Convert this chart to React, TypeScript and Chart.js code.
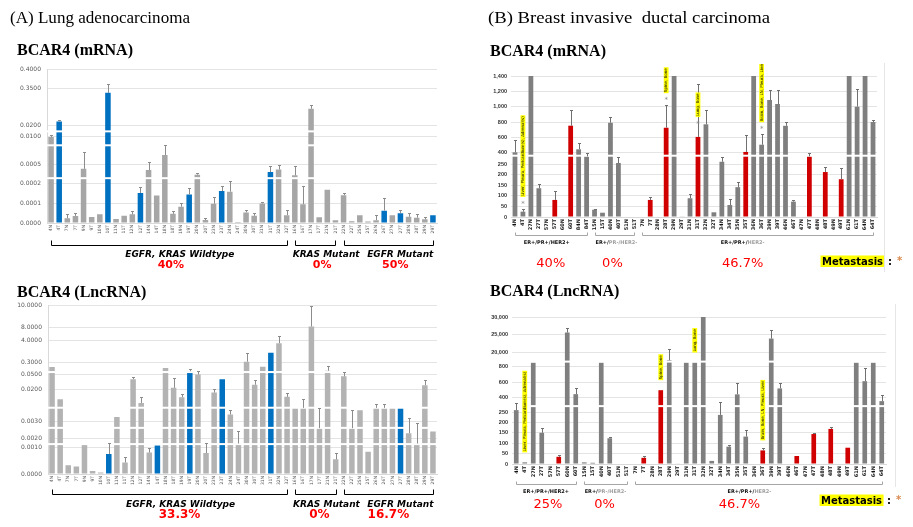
import React, { useEffect, useRef } from "react";
import { Chart, registerables } from "chart.js";

Chart.register(...registerables);

// ---------------- DATA ----------------
// (A) Lung adenocarcinoma – sample ids (each id gives N and T)
const A_WILD_IDS = [4, 7, 9, 10, 11, 12, 14, 18, 19, 20, 23, 24, 30, 31, 32];
const A_KRAS_IDS = [16, 17, 21];
const A_EGFR_IDS = [22, 25, 26, 27, 28, 29];

// (B) Breast invasive ductal carcinoma – sample ids
const B_HER2P_IDS_MRNA = [4, 27, 57, 60, 84];
const B_HER2P_IDS_LNC = [4, 27, 57, 60];
const B_TN_IDS = [15, 40, 51];
const B_LUM_IDS = [7, 28, 29, 31, 32, 34, 35, 36, 39, 46, 47, 48, 49, 61, 64];

const A_MRNA_VALUES = [
  0.0097, 0.055, 0.000024, 0.000036, 0.00043, 0.00003, 0.000044, 0.309, 0.00002, 0.000037,
  0.000044, 0.000153, 0.00041, 0.00014, 0.0036, 0.000047, 0.000083, 0.000146, 0.00034, 0.000015,
  0.000098, 0.000163, 0.00016, 0.000005, 0.000054, 0.000037, 0.0001, 0.00038, 0.00042, 0.00004,
  0.00033, 0.000096, 0.168, 0.000029, 0.00017, 0.000014,
  0.000142, 0.000009, 0.00004, 0.000008, 0.000014, 0.000063, 0.00004, 0.00005, 0.000032, 0.000027, 0.000019, 0.00004,
];
const A_MRNA_ERRORS = [
  0.001, 0.015, 0.00002, 0.000016, 0.0042, 0, 0, 0.053, 0, 0,
  0.000018, 0.00003, 0.0009, 0, 0.0033, 0.000015, 0.000017, 0.000034, 0.00003, 0.000009,
  0.000036, 0.000027, 0.00009, 0, 0.000012, 0.000015, 0.000008, 0.0001, 0.000075, 0.000026,
  0.00015, 0.000094, 0.029, 0, 0, 0,
  0.000012, 0, 0, 0, 0.000025, 0.000067, 0, 0.000018, 0.000017, 0.000019, 0.00001, 0,
];
const A_MRNA_HIGH = ["4T", "10T", "12T", "19T", "23T", "31T", "26T", "27T", "29T"];

const A_LNC_VALUES = [
  0.196, 0.0147, 0.00033, 0.00029, 0.0013, 0.00011, 0.00006, 0.00076, 0.0054, 0.00044,
  0.04, 0.0128, 0.00082, 0.00125, 0.175, 0.023, 0.0158, 0.11, 0.049, 0.0008,
  0.0183, 0.0396, 0.0067, 0.00145, 0.37, 0.029, 0.204, 1.9, 3.54, 0.016,
  0.0102, 0.0102, 8.12, 0.0026, 0.121, 0.00056,
  0.0455, 0.0026, 0.009, 0.00085, 0.0102, 0.0102, 0.0102, 0.0102, 0.0023, 0.00145, 0.028, 0.0024,
];
const A_LNC_ERRORS = [
  0, 0, 0, 0, 0, 0, 0, 0.0007, 0, 0.00022,
  0.004, 0.0032, 0.00016, 0, 0, 0.02, 0.0019, 0.05, 0.06, 0.00065,
  0.003, 0, 0.0022, 0.001, 1.5, 0.0085, 0, 0, 1.76, 0.0021,
  0, 0.0047, 2, 0.0073, 0.09, 0.00023,
  0.046, 0.0067, 0, 0, 0.0018, 0.0018, 0, 0, 0.0028, 0.00145, 0.0095, 0,
];
const A_LNC_HIGH = ["10T", "14T", "19T", "23T", "31T", "27T"];

const B_MRNA_VALUES = [
  405, 25, 1500, 135, 0, 80, 0, 752, 444, 350,
  34, 20, 790, 263, 0, 0,
  0, 80, 0, 725, 1500, 3, 88, 605, 770, 22, 280, 56, 140, 410, 1500, 504, 1087, 1035, 750, 72,
  0, 352, 0, 211, 0, 177, 1500, 1000, 1500, 800,
];
const B_MRNA_ERRORS = [
  155, 13, 0, 20, 0, 42, 0, 205, 78, 50,
  5, 0, 70, 84, 0, 0,
  0, 15, 0, 295, 0, 0, 20, 690, 187, 0, 59, 27, 25, 220, 0, 136, 128, 180, 55, 8,
  0, 40, 0, 24, 0, 53, 0, 225, 0, 25,
];
const B_MRNA_HIGH = ["57T", "60T", "7T", "28T", "31T", "35T", "47T", "48T", "49T"];

const B_LNC_VALUES = [
  273, 8, 6500, 150, 0, 35, 25570, 443,
  8, 6, 6500, 124, 0, 0,
  0, 30, 0, 495, 9550, 2, 6500, 6500, 30000, 15, 237, 84, 440, 132, 0, 66, 23870, 518,
  0, 39, 0, 144, 0, 168, 0, 79, 6500, 613, 6500, 363,
];
const B_LNC_ERRORS = [
  67, 0, 0, 22, 0, 7, 1430, 82,
  0, 0, 0, 8, 0, 0,
  0, 9, 0, 0, 11500, 0, 0, 0, 0, 0, 118, 8, 150, 30, 0, 13, 2330, 72,
  0, 0, 0, 6, 0, 9, 0, 0, 0, 167, 0, 67,
];
const B_LNC_HIGH = ["57T", "7T", "28T", "36T", "46T", "47T", "48T", "49T"];

// broken-axis tick values and their labels
const A_MRNA_TICKS = [0, 0.0001, 0.0002, 0.0005, 0.01, 0.02, 0.35, 0.4];
const A_MRNA_TICK_LABELS = ["0.0000", "0.0001", "0.0002", "0.0005", "0.0100", "0.0200", "0.3500", "0.4000"];
const A_LNC_TICKS = [0, 0.001, 0.002, 0.003, 0.02, 0.05, 0.3, 4, 8, 10];
const A_LNC_TICK_LABELS = ["0.0000", "0.0010", "0.0020", "0.0030", "0.0200", "0.0500", "0.3000", "4.0000", "8.0000", "10.0000"];
const B_MRNA_TICKS = [0, 50, 100, 150, 200, 250, 400, 600, 800, 1000, 1200, 1400];
const B_MRNA_TICK_LABELS = ["0", "50", "100", "150", "200", "250", "400", "600", "800", "1,000", "1,200", "1,400"];
const B_LNC_TICKS = [0, 50, 100, 150, 200, 250, 400, 600, 800, 20000, 25000, 30000];
const B_LNC_TICK_LABELS = ["0", "50", "100", "150", "200", "250", "400", "600", "800", "20,000", "25,000", "30,000"];

const METASTASIS_NOTES = [
  { label: "4T", text: "Liver, Pleura, Pericardium(s), Adrenal(s)" },
  { label: "28T", text: "Spine, Bone" },
  { label: "31T", text: "Lung, Bone" },
  { label: "36T", text: "Brain, Bone, LN, Pleura, Liver" },
];

// ---------------- helpers ----------------
const pairs = (ids: number[]) => ids.flatMap((id) => [id + "N", id + "T"]);

function pieceMap(vals: number[], units: number[]) {
  return (v: number) => {
    if (v <= vals[0]) return units[0];
    for (let i = 0; i < vals.length - 1; i++) {
      if (v <= vals[i + 1]) return units[i] + ((v - vals[i]) / (vals[i + 1] - vals[i])) * (units[i + 1] - units[i]);
    }
    return units[units.length - 1];
  };
}

type Group = { from: number; to: number; parts: [string, string][]; pct: string; ldx: number; pdx: number };
type Spec = {
  key: string;
  left: number; top: number; width: number; height: number;
  yW: number; xH: number; padTop: number; padRight: number; padBottom: number;
  labels: string[]; values: number[]; errors: number[]; high: string[];
  base: string; hi: string; barPct: number;
  tickVals: number[]; tickUnits: number[]; tickLabels: string[]; breaks: number[];
  yFont: any; yColor: string; yPad: number; yBorder: boolean;
  xFont: any; xColor: string;
  errColor: string;
  groups: Group[];
  bracketY: number; bracketTick: number; bracketColor: string;
  labelY: number; labelFont: string; pctY: number; pctFont: string;
  meta?: { x: number; y: number };
  notes?: { label: string; text: string }[];
  asterisks?: boolean;
};

const A_MRNA_LABELS = [...pairs(A_WILD_IDS), ...pairs(A_KRAS_IDS), ...pairs(A_EGFR_IDS)];
const A_LNC_LABELS = A_MRNA_LABELS;
const B_MRNA_LABELS = [...pairs(B_HER2P_IDS_MRNA), ...pairs(B_TN_IDS), ...pairs(B_LUM_IDS)];
const B_LNC_LABELS = [...pairs(B_HER2P_IDS_LNC), ...pairs(B_TN_IDS), ...pairs(B_LUM_IDS)];

const A_GROUP_LABEL_FONT = "italic bold 9px 'DejaVu Sans'";

const SPECS: Spec[] = [
  {
    key: "a-mrna", left: 0, top: 60, width: 445, height: 215,
    yW: 47, xH: 20, padTop: 9, padRight: 8, padBottom: 32,
    labels: A_MRNA_LABELS, values: A_MRNA_VALUES, errors: A_MRNA_ERRORS, high: A_MRNA_HIGH,
    base: "#a6a6a6", hi: "#0070c0", barPct: 0.68,
    tickVals: A_MRNA_TICKS, tickUnits: [0, 19.7, 39.3, 59, 87.3, 98, 135.3, 154], tickLabels: A_MRNA_TICK_LABELS,
    breaks: [45, 78, 92],
    yFont: { family: "DejaVu Sans", size: 6 }, yColor: "#595959", yPad: 6, yBorder: true,
    xFont: { family: "DejaVu Sans", size: 4.5 }, xColor: "#595959",
    errColor: "#8c8c8c",
    groups: [
      { from: 0, to: 29, parts: [["EGFR, KRAS Wildtype", "#000"]], pct: "40%", ldx: 11, pdx: 2 },
      { from: 30, to: 35, parts: [["KRAS Mutant", "#000"]], pct: "0%", ldx: 11, pdx: 7 },
      { from: 36, to: 47, parts: [["EGFR Mutant", "#000"]], pct: "50%", ldx: 12, pdx: 7 },
    ],
    bracketY: 245, bracketTick: 5, bracketColor: "#000",
    labelY: 256.5, labelFont: A_GROUP_LABEL_FONT, pctY: 267.5, pctFont: "bold 11px 'DejaVu Sans'",
  },
  {
    key: "a-lnc", left: 0, top: 296, width: 445, height: 224,
    yW: 48, xH: 18, padTop: 9, padRight: 8, padBottom: 28,
    labels: A_LNC_LABELS, values: A_LNC_VALUES, errors: A_LNC_ERRORS, high: A_LNC_HIGH,
    base: "#b3b3b3", hi: "#0070c0", barPct: 0.68,
    tickVals: A_LNC_TICKS, tickUnits: [0, 26.3, 36, 52.7, 85, 100.3, 112.3, 134, 146.7, 169], tickLabels: A_LNC_TICK_LABELS,
    breaks: [30, 46.3, 66.5, 102.3],
    yFont: { family: "DejaVu Sans", size: 6 }, yColor: "#595959", yPad: 6, yBorder: true,
    xFont: { family: "DejaVu Sans", size: 4.5 }, xColor: "#595959",
    errColor: "#8c8c8c",
    groups: [
      { from: 0, to: 29, parts: [["EGFR, KRAS Wildtype", "#000"]], pct: "33.3%", ldx: 11, pdx: 10 },
      { from: 30, to: 35, parts: [["KRAS Mutant", "#000"]], pct: "0%", ldx: 11, pdx: 4 },
      { from: 36, to: 47, parts: [["EGFR Mutant", "#000"]], pct: "16.7%", ldx: 12, pdx: 0 },
    ],
    bracketY: 494.3, bracketTick: 5, bracketColor: "#000",
    labelY: 506.5, labelFont: A_GROUP_LABEL_FONT, pctY: 518.3, pctFont: "bold 12px 'DejaVu Sans'",
  },
  {
    key: "b-mrna", left: 470, top: 64, width: 443, height: 211,
    yW: 41, xH: 16, padTop: 12, padRight: 36, padBottom: 42,
    labels: B_MRNA_LABELS, values: B_MRNA_VALUES, errors: B_MRNA_ERRORS, high: B_MRNA_HIGH,
    base: "#7f7f7f", hi: "#d00000", barPct: 0.6,
    tickVals: B_MRNA_TICKS, tickUnits: [0, 10.7, 21.3, 32, 42.7, 53, 64.3, 79.7, 95, 110.3, 125.7, 141], tickLabels: B_MRNA_TICK_LABELS,
    breaks: [61.3],
    yFont: { family: "Liberation Sans", size: 5.5, weight: "bold" }, yColor: "#333", yPad: 4, yBorder: false,
    xFont: { family: "DejaVu Sans", size: 5, weight: "bold" }, xColor: "#111",
    errColor: "#707070",
    groups: [
      { from: 0, to: 9, parts: [["ER+/PR+/HER2+", "#111"]], pct: "40%", ldx: -4, pdx: 0 },
      { from: 10, to: 15, parts: [["ER+/", "#111"], ["PR-/HER2-", "#a0a0a0"]], pct: "0%", ldx: 2, pdx: -2 },
      { from: 16, to: 45, parts: [["ER+/PR+/", "#111"], ["HER2-", "#a0a0a0"]], pct: "46.7%", ldx: -15, pdx: -15 },
    ],
    bracketY: 235, bracketTick: 3, bracketColor: "#a6a6a6",
    labelY: 243.5, labelFont: "bold 5px 'DejaVu Sans'", pctY: 267.3, pctFont: "13px 'DejaVu Sans'",
    meta: { x: 822, y: 265 },
    notes: METASTASIS_NOTES, asterisks: true,
  },
  {
    key: "b-lnc", left: 470, top: 305, width: 443, height: 215,
    yW: 42, xH: 16, padTop: 12, padRight: 27, padBottom: 40,
    labels: B_LNC_LABELS, values: B_LNC_VALUES, errors: B_LNC_ERRORS, high: B_LNC_HIGH,
    base: "#7f7f7f", hi: "#d00000", barPct: 0.55,
    tickVals: B_LNC_TICKS, tickUnits: [0, 10.3, 20.7, 31.3, 42, 51.7, 66.7, 82, 97.3, 112, 129.7, 147.3], tickLabels: B_LNC_TICK_LABELS,
    breaks: [58, 102.6],
    yFont: { family: "Liberation Sans", size: 5.5, weight: "bold" }, yColor: "#333", yPad: 4, yBorder: false,
    xFont: { family: "DejaVu Sans", size: 5, weight: "bold" }, xColor: "#111",
    errColor: "#707070",
    groups: [
      { from: 0, to: 7, parts: [["ER+/PR+/HER2+", "#111"]], pct: "25%", ldx: 0, pdx: 2 },
      { from: 8, to: 13, parts: [["ER+/", "#111"], ["PR-/HER2-", "#a0a0a0"]], pct: "0%", ldx: 0, pdx: -1 },
      { from: 14, to: 43, parts: [["ER+/PR+/", "#111"], ["HER2-", "#a0a0a0"]], pct: "46.7%", ldx: -9, pdx: -19 },
    ],
    bracketY: 484.3, bracketTick: 3, bracketColor: "#a6a6a6",
    labelY: 492.8, labelFont: "bold 5px 'DejaVu Sans'", pctY: 508.3, pctFont: "13px 'DejaVu Sans'",
    meta: { x: 821, y: 504 },
    notes: METASTASIS_NOTES, asterisks: false,
  },
];

function buildConfig(spec: Spec): any {
  const toU = pieceMap(spec.tickVals, spec.tickUnits);
  const maxU = spec.tickUnits[spec.tickUnits.length - 1];
  const decor = {
    id: "decor-" + spec.key,
    afterDatasetsDraw(chart: any) {
      const ctx = chart.ctx;
      const ys = chart.scales.y;
      const area = chart.chartArea;
      const bars = chart.getDatasetMeta(0).data;
      ctx.save();
      ctx.fillStyle = "#ffffff";
      spec.breaks.forEach((b) => {
        const py = ys.getPixelForValue(b);
        ctx.fillRect(area.left, py - 1, area.right - area.left, 2);
      });
      ctx.strokeStyle = spec.errColor;
      ctx.lineWidth = 1;
      spec.values.forEach((v, i) => {
        const e = spec.errors[i];
        if (!e) return;
        const x = Math.round(bars[i].x) + 0.5;
        const y0 = ys.getPixelForValue(toU(v));
        const y1 = Math.round(ys.getPixelForValue(toU(v + e))) + 0.5;
        ctx.beginPath();
        ctx.moveTo(x, y0);
        ctx.lineTo(x, y1);
        ctx.moveTo(x - 1.5, y1);
        ctx.lineTo(x + 1.5, y1);
        ctx.stroke();
      });
      ctx.restore();
    },
    afterDraw(chart: any) {
      const ctx = chart.ctx;
      const ys = chart.scales.y;
      const bars = chart.getDatasetMeta(0).data;
      const L = spec.left;
      const T = spec.top;
      ctx.save();
      // brackets, group labels, percentages
      spec.groups.forEach((g) => {
        const x0 = Math.round(bars[g.from].x) + 0.5;
        const x1 = Math.round(bars[g.to].x) + 0.5;
        const by = Math.round(spec.bracketY - T) + 0.5;
        ctx.strokeStyle = spec.bracketColor;
        ctx.lineWidth = 1;
        ctx.beginPath();
        ctx.moveTo(x0, by - spec.bracketTick);
        ctx.lineTo(x0, by);
        ctx.lineTo(x1, by);
        ctx.lineTo(x1, by - spec.bracketTick);
        ctx.stroke();
        const cx = (bars[g.from].x + bars[g.to].x) / 2;
        ctx.font = spec.labelFont;
        ctx.textBaseline = "alphabetic";
        ctx.textAlign = "left";
        const widths = g.parts.map((p) => ctx.measureText(p[0]).width);
        const total = widths.reduce((a, b) => a + b, 0);
        let x = cx + g.ldx - total / 2;
        g.parts.forEach((p, i) => {
          ctx.fillStyle = p[1];
          ctx.fillText(p[0], x, spec.labelY - T);
          x += widths[i];
        });
        ctx.font = spec.pctFont;
        ctx.fillStyle = "#ff0000";
        ctx.textAlign = "center";
        ctx.fillText(g.pct, cx + g.pdx, spec.pctY - T);
      });
      // metastasis notes
      (spec.notes || []).forEach((n) => {
        const i = spec.labels.indexOf(n.label);
        if (i < 0) return;
        const x = bars[i].x;
        const v = spec.values[i];
        const barTop = ys.getPixelForValue(toU(v));
        const errTop = ys.getPixelForValue(toU(v + spec.errors[i]));
        let bottom = barTop - 10;
        if (spec.asterisks) {
          const ay = errTop - 6 > barTop - 40 ? errTop - 6 : barTop - 14;
          ctx.fillStyle = "#8c8c8c";
          ctx.font = "7px 'DejaVu Sans'";
          ctx.textAlign = "center";
          ctx.textBaseline = "middle";
          ctx.fillText("*", x, ay + 1);
          bottom = ay - 6;
        }
        ctx.save();
        ctx.translate(x, bottom);
        ctx.rotate(-Math.PI / 2);
        ctx.font = "4px 'DejaVu Sans'";
        const w = ctx.measureText(n.text).width;
        ctx.fillStyle = "#ffff00";
        ctx.fillRect(0, -2.4, w + 2, 4.8);
        ctx.fillStyle = "#000";
        ctx.textAlign = "left";
        ctx.textBaseline = "middle";
        ctx.fillText(n.text, 1, 0.2);
        ctx.restore();
      });
      // metastasis legend
      if (spec.meta) {
        const mx = spec.meta.x - L;
        const my = spec.meta.y - T;
        ctx.font = "bold 10px 'DejaVu Sans'";
        ctx.textAlign = "left";
        ctx.textBaseline = "alphabetic";
        const w = ctx.measureText("Metastasis").width;
        ctx.fillStyle = "#ffff00";
        ctx.fillRect(mx - 1.5, my - 9.5, w + 3, 11.5);
        ctx.fillStyle = "#000";
        ctx.fillText("Metastasis", mx, my);
        ctx.fillText(":", mx + w + 5, my);
        ctx.fillStyle = "#d98a4e";
        ctx.font = "bold 10px 'DejaVu Sans'";
        ctx.fillText("*", mx + w + 14, my - 1);
      }
      ctx.restore();
    },
  };

  return {
    type: "bar",
    data: {
      labels: spec.labels,
      datasets: [
        {
          data: spec.values.map((v) => Math.min(toU(v), maxU)),
          backgroundColor: spec.labels.map((l) => (spec.high.includes(l) ? spec.hi : spec.base)),
          barPercentage: spec.barPct,
          categoryPercentage: 1,
          borderWidth: 0,
        },
      ],
    },
    options: {
      animation: false,
      responsive: false,
      devicePixelRatio: 1,
      layout: { padding: { top: spec.padTop, right: spec.padRight, bottom: spec.padBottom, left: 0 } },
      plugins: { legend: { display: false }, tooltip: { enabled: false }, title: { display: false } },
      scales: {
        x: {
          type: "category",
          offset: true,
          grid: { display: false, drawTicks: false },
          border: { display: true, color: "#d9d9d9" },
          ticks: {
            autoSkip: false,
            minRotation: 90,
            maxRotation: 90,
            padding: 2,
            font: spec.xFont,
            color: spec.xColor,
          },
          afterFit: (s: any) => {
            s.height = spec.xH;
          },
        },
        y: {
          type: "linear",
          min: 0,
          max: maxU,
          grid: { color: "#e4e4e4", drawTicks: false, lineWidth: 1 },
          border: { display: spec.yBorder, color: "#d9d9d9" },
          ticks: {
            padding: spec.yPad,
            font: spec.yFont,
            color: spec.yColor,
            callback: (_v: any, i: number) => spec.tickLabels[i],
          },
          afterBuildTicks: (s: any) => {
            s.ticks = spec.tickUnits.map((u) => ({ value: u }));
          },
          afterFit: (s: any) => {
            s.width = spec.yW;
          },
        },
      },
    },
    plugins: [decor],
  };
}

function Panel({ spec }: { spec: Spec }) {
  const ref = useRef<HTMLCanvasElement>(null);
  useEffect(() => {
    const chart = new Chart(ref.current as HTMLCanvasElement, buildConfig(spec));
    return () => chart.destroy();
  }, [spec]);
  return (
    <canvas
      ref={ref}
      width={spec.width}
      height={spec.height}
      style={{ position: "absolute", left: spec.left, top: spec.top, width: spec.width, height: spec.height }}
    />
  );
}

const SERIF = "'Liberation Serif', 'DejaVu Serif', serif";

export default function App() {
  return (
    <div style={{ position: "fixed", left: 0, top: 0, width: 913, height: 527, background: "#fff", overflow: "hidden" }}>
      {SPECS.map((s) => (
        <Panel key={s.key} spec={s} />
      ))}
      <svg width={913} height={527} style={{ position: "absolute", left: 0, top: 0, pointerEvents: "none" }}>
        <line x1={884.5} y1={63} x2={884.5} y2={272} stroke="#e6e6e6" strokeWidth={1} />
        <line x1={895.5} y1={304} x2={895.5} y2={487} stroke="#e6e6e6" strokeWidth={1} />
        <text x={10} y={23} fontFamily={SERIF} fontSize={16} fill="#000" textLength={180} lengthAdjust="spacingAndGlyphs">
          (A) Lung adenocarcinoma
        </text>
        <text x={488} y={23} fontFamily={SERIF} fontSize={16} fill="#000" textLength={282} lengthAdjust="spacingAndGlyphs">
          {"(B) Breast invasive\u00a0 ductal carcinoma"}
        </text>
        <text x={17} y={55} fontFamily={SERIF} fontSize={16} fontWeight="bold" fill="#000">BCAR4 (mRNA)</text>
        <text x={17} y={297} fontFamily={SERIF} fontSize={16} fontWeight="bold" fill="#000">BCAR4 (LncRNA)</text>
        <text x={490} y={56} fontFamily={SERIF} fontSize={16} fontWeight="bold" fill="#000">BCAR4 (mRNA)</text>
        <text x={490} y={296} fontFamily={SERIF} fontSize={16} fontWeight="bold" fill="#000">BCAR4 (LncRNA)</text>
      </svg>
    </div>
  );
}
